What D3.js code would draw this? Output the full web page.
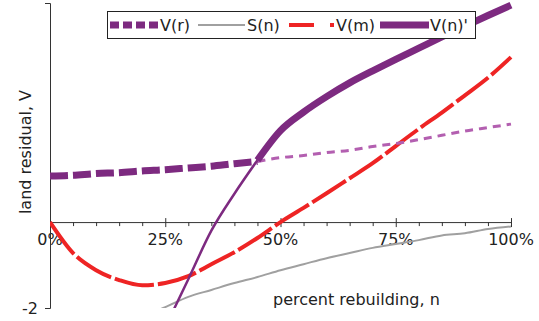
<!DOCTYPE html>
<html>
<head>
<meta charset="utf-8">
<script src="https://cdn.jsdelivr.net/npm/d3@7"></script>
<style>
  body { margin: 0; background: #fff; }
  text { font-family: "DejaVu Sans", Verdana, sans-serif; font-size: 16px; fill: #222; }
</style>
</head>
<body>
<svg width="539" height="321"></svg>
<script>
// percent rebuilding, 5% steps
const pct = [0,5,10,15,20,25,30,35,40,45,50,55,60,65,70,75,80,85,90,95,100];

// V(r) across all n
const vr = [1.07,1.09,1.13,1.15,1.19,1.22,1.26,1.30,1.36,1.41,1.50,1.55,1.62,1.67,1.76,1.83,1.92,2.02,2.12,2.20,2.28];
// V(m)
const vm = [0,-0.72,-1.12,-1.35,-1.47,-1.42,-1.26,-0.98,-0.70,-0.37,0,0.33,0.67,1.02,1.37,1.77,2.17,2.55,2.95,3.36,3.84];
// S(n), starts at 20%
const sPct = [20,25,30,35,40,45,50,55,60,65,70,75,80,85,90,95,100];
const sn = [-2.2,-1.98,-1.74,-1.58,-1.42,-1.28,-1.12,-0.98,-0.84,-0.72,-0.60,-0.51,-0.42,-0.31,-0.26,-0.16,-0.10];
// V(n)', starts at 25%
const nPct = [25,30,35,40,45,50,55,60,65,70,75,80,85,90,95,100];
const vn = [-2.45,-1.33,-0.2,0.66,1.44,2.13,2.56,2.92,3.24,3.52,3.79,4.05,4.31,4.56,4.81,5.05];

const switchAt = 45; // where V(n)' overtakes V(r)

const xTicks = [0,25,50,75,100];
const yTicks = [-2];

const purple = '#7d2a80', purpleLight = '#b35fb0', red = '#ee2424', grey = '#a0a0a0';

const svg = d3.select('svg');

const x = d3.scaleLinear().domain([0,100]).range([50,511]);
const y = d3.scaleLinear().domain([-2,5.1]).range([308,3]);

svg.append('defs').append('clipPath').attr('id','plot')
    .append('rect').attr('x',50).attr('y',0).attr('width',470).attr('height',308);

// x axis at zero
const xAxis = svg.append('g').attr('transform', `translate(0,${y(0)})`);
xAxis.call(d3.axisBottom(x).tickValues(d3.range(0,101,5)).tickSize(4).tickFormat(''));
xAxis.select('.domain').attr('stroke','#333');
xAxis.selectAll('.tick line').attr('stroke','#333');
xAxis.selectAll('.tick').filter(d => d % 25 === 0).select('line')
    .attr('y1',-4).attr('y2',5);

svg.selectAll('.xlab')
    .data(xTicks)
    .enter()
    .append('text')
    .attr('x', d => x(d))
    .attr('y', 245)
    .attr('text-anchor','middle')
    .text(d => d + '%');

// y axis
const yAxis = svg.append('g').attr('transform','translate(50,0)');
yAxis.call(d3.axisLeft(y).tickValues(yTicks).tickSize(5).tickFormat(''));
yAxis.select('.domain').attr('stroke','#333');
yAxis.selectAll('.tick line').attr('stroke','#333');

svg.selectAll('.ylab')
    .data(yTicks)
    .enter()
    .append('text')
    .attr('x', 38)
    .attr('y', d => y(d) + 6)
    .attr('text-anchor','end')
    .text(d => d);

svg.append('text')
    .attr('transform','translate(31,152) rotate(-90)')
    .attr('text-anchor','middle')
    .text('land residual, V');

svg.append('text')
    .attr('x',273).attr('y',305)
    .text('percent rebuilding, n');

// curves (smoothed like the original)
const line = d3.line().curve(d3.curveMonotoneX).x(d => x(d[0])).y(d => y(d[1]));
const plot = svg.append('g').attr('clip-path','url(#plot)');

function draw(pts, color, width, dash) {
    plot.append('path')
        .attr('d', line(pts))
        .attr('fill','none')
        .attr('stroke', color)
        .attr('stroke-width', width)
        .attr('stroke-dasharray', dash)
        .attr('stroke-linejoin','round');
}

const vrPts = pct.map((p,i) => [p, vr[i]]);
const vmPts = pct.map((p,i) => [p, vm[i]]);
const snPts = sPct.map((p,i) => [p, sn[i]]);
const vnPts = nPct.map((p,i) => [p, vn[i]]);

draw(snPts, grey, 2, null);
draw(vmPts, red, 4, '40,4');
draw(vrPts.filter(d => d[0] >= switchAt), purpleLight, 3, '8,6');
draw(vrPts.filter(d => d[0] <= switchAt), purple, 7, '18,5');
draw(vnPts.filter(d => d[0] <= switchAt), purple, 2.5, null);
draw(vnPts.filter(d => d[0] >= switchAt), purple, 7, null);

// legend
const lg = svg.append('g');
lg.append('rect')
    .attr('x',107.5).attr('y',11.5).attr('width',368).attr('height',27)
    .attr('fill','#fff').attr('stroke','#222');

const legend = [
    {name:'V(r)', x0:110, x1:160, tx:160, color:purple, w:7, dash:'9,4'},
    {name:'S(n)', x0:198, x1:245, tx:247, color:grey, w:2, dash:null},
    {name:'V(m)', x0:289, x1:334, tx:336, color:red, w:4, dash:'25,16'},
    {name:"V(n)'", x0:380, x1:429, tx:430, color:purple, w:7, dash:null}
];

lg.selectAll('.lline')
    .data(legend)
    .enter()
    .append('line')
    .attr('x1', d => d.x0).attr('x2', d => d.x1)
    .attr('y1', 25).attr('y2', 25)
    .attr('stroke', d => d.color)
    .attr('stroke-width', d => d.w)
    .attr('stroke-dasharray', d => d.dash);

lg.selectAll('.ltext')
    .data(legend)
    .enter()
    .append('text')
    .attr('x', d => d.tx)
    .attr('y', 31)
    .text(d => d.name);
</script>
</body>
</html>
